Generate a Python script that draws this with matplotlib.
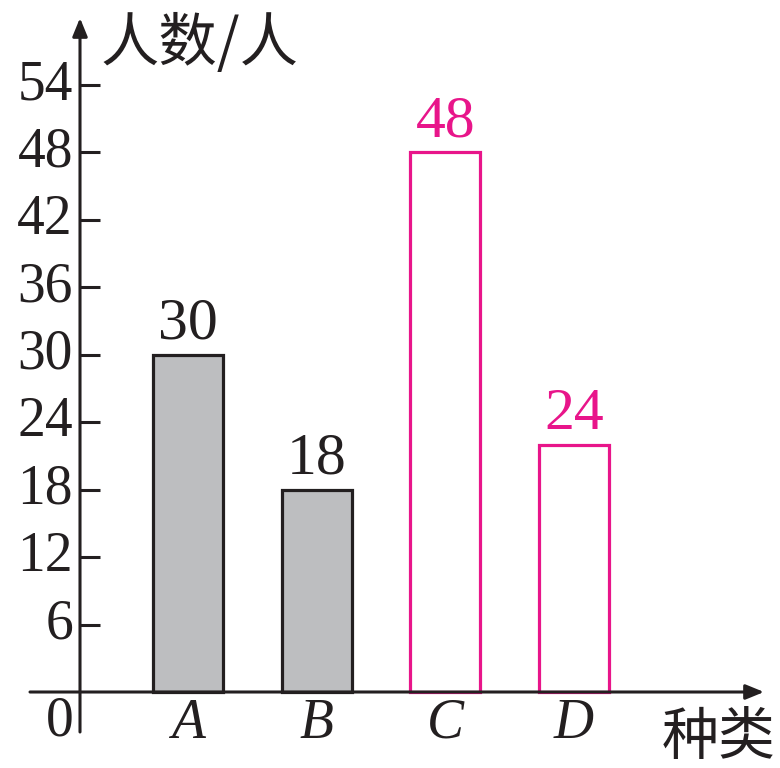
import matplotlib
matplotlib.use("Agg")
import matplotlib.pyplot as plt

categories = ["A", "B", "C", "D"]
bar_heights = [30, 18, 48, 22]          # as drawn in the picture
bar_labels = ["30", "18", "48", "24"]   # as printed above the bars
y_ticks = [6, 12, 18, 24, 30, 36, 42, 48, 54]

GRAY = "#bdbec0"
INK = "#231f20"
PINK = "#e8158a"

# pixel mapping of the reference: y=0 at 692px, y=54 at 85px; bar centres 188..574px
px_per_y = (692 - 85) / 54
px_per_x = (574 - 188) / 3

fig = plt.figure(figsize=(7.8, 7.68), dpi=100)
ax = fig.add_axes([0, 0, 1, 1])
ax.set_xlim(1 - 188 / px_per_x, 1 + (780 - 188) / px_per_x)
ax.set_ylim(-(768 - 692) / px_per_y, 692 / px_per_y)
ax.axis("off")

def px_x(p):
    return 1 + (p - 188) / px_per_x

def px_y(p):
    return (692 - p) / px_per_y

serif = ["Liberation Serif", "DejaVu Serif"]
cjk = ["Noto Sans CJK SC", "DejaVu Sans"]
FS = 40

x_pos = list(range(1, len(categories) + 1))
width = 70 / px_per_x
face = [GRAY, GRAY, "white", "white"]
edge = [INK, INK, PINK, PINK]
ax.bar(x_pos, bar_heights, width=width, color=face, edgecolor=edge, linewidth=2.3, zorder=3)

# axes with arrows
y_axis_x = px_x(80)
ax.annotate("", xy=(y_axis_x, px_y(18)), xytext=(y_axis_x, px_y(732)),
            arrowprops=dict(arrowstyle="-|>,head_length=1.1,head_width=0.45", color=INK, lw=2.2,
                            shrinkA=0, shrinkB=0), zorder=4)
ax.annotate("", xy=(px_x(764), 0), xytext=(px_x(30), 0),
            arrowprops=dict(arrowstyle="-|>,head_length=1.1,head_width=0.45", color=INK, lw=2.2,
                            shrinkA=0, shrinkB=0), zorder=4)

# ticks
for t in y_ticks:
    ax.plot([y_axis_x, px_x(100)], [t, t], color=INK, lw=2.2, solid_capstyle="butt", zorder=4)
    ax.text(px_x(73), t, str(t), ha="right", va="center", fontsize=FS, family=serif, color=INK)

ax.text(px_x(74), px_y(722), "0", ha="right", va="center", fontsize=FS, family=serif, color=INK)

for x, c in zip(x_pos, categories):
    ax.text(x, px_y(724), c, ha="center", va="center", fontsize=FS, family=serif,
            style="italic", color=INK)

for x, h, lab, col in zip(x_pos, bar_heights, bar_labels, edge):
    ax.text(x, h + 3 / px_per_y, lab, ha="center", va="bottom", fontsize=43, family=serif, color=col)

ax.text(px_x(100), px_y(44), "人数/人", ha="left", va="center", fontsize=42, family=cjk, color=INK)
ax.text(px_x(776), px_y(738), "种类", ha="right", va="center", fontsize=41, family=cjk, color=INK)

fig.savefig("out.png", dpi=100, facecolor="white")
